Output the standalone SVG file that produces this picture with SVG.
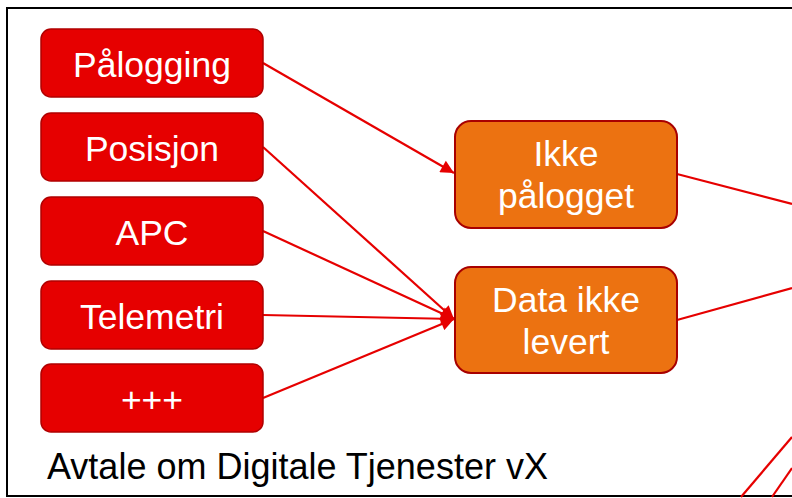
<svg xmlns="http://www.w3.org/2000/svg" width="792" height="498" viewBox="0 0 792 498">
<defs>
<style>
.src rect{fill:#E60000;stroke:#B00000;stroke-width:1.5}
.mid rect{fill:#EC7211;stroke:#A80000;stroke-width:2}
.lbl{font-family:"Liberation Sans",Arial,sans-serif;font-size:35.5px;fill:#FFFFFF;text-anchor:middle}
.cap{font-family:"Liberation Sans",Arial,sans-serif;font-size:36px;fill:#000000}
.conn line{stroke:#E60000;stroke-width:2.2;fill:none}
</style>
<marker id="ah" viewBox="0 0 10 10" refX="10" refY="5" markerWidth="7" markerHeight="6" markerUnits="strokeWidth" orient="auto">
<path d="M0,0 L10,5 L0,10 z" fill="#E60000"/>
</marker>
</defs>
<rect x="0" y="0" width="792" height="498" fill="#FFFFFF"/>
<rect id="frame" x="7" y="8" width="800" height="488" fill="none" stroke="#000000" stroke-width="2"/>
<g id="connectors" class="conn">
<line x1="263" y1="63" x2="454" y2="173" marker-end="url(#ah)"/>
<line x1="263" y1="147" x2="454" y2="319" marker-end="url(#ah)"/>
<line x1="263" y1="231" x2="454" y2="319" marker-end="url(#ah)"/>
<line x1="263" y1="315" x2="454" y2="319" marker-end="url(#ah)"/>
<line x1="263" y1="398" x2="454" y2="319" marker-end="url(#ah)"/>
<line x1="677" y1="174" x2="792" y2="204"/>
<line x1="677" y1="320" x2="792" y2="288"/>
<line x1="741" y1="497" x2="792" y2="437"/>
<line x1="772" y1="497" x2="792" y2="468"/>
</g>
<g id="n-palogging" class="src"><rect x="41" y="29" width="222" height="68" rx="10"/><text class="lbl" x="152" y="77">Pålogging</text></g>
<g id="n-posisjon" class="src"><rect x="41" y="113" width="222" height="68" rx="10"/><text class="lbl" x="152" y="161">Posisjon</text></g>
<g id="n-apc" class="src"><rect x="41" y="197" width="222" height="68" rx="10"/><text class="lbl" x="152" y="245">APC</text></g>
<g id="n-telemetri" class="src"><rect x="41" y="281" width="222" height="68" rx="10"/><text class="lbl" x="152" y="329">Telemetri</text></g>
<g id="n-plus" class="src"><rect x="41" y="364" width="222" height="68" rx="10"/><text class="lbl" x="152" y="412">+++</text></g>
<g id="n-ikke-palogget" class="mid"><rect x="455" y="121" width="222" height="107" rx="16"/><text class="lbl" x="566" y="166">Ikke</text><text class="lbl" x="566" y="208">pålogget</text></g>
<g id="n-data-ikke-levert" class="mid"><rect x="455" y="267" width="222" height="106" rx="16"/><text class="lbl" x="566" y="312">Data ikke</text><text class="lbl" x="566" y="354">levert</text></g>
<text id="caption" class="cap" x="47" y="479">Avtale om Digitale Tjenester vX</text>
</svg>
